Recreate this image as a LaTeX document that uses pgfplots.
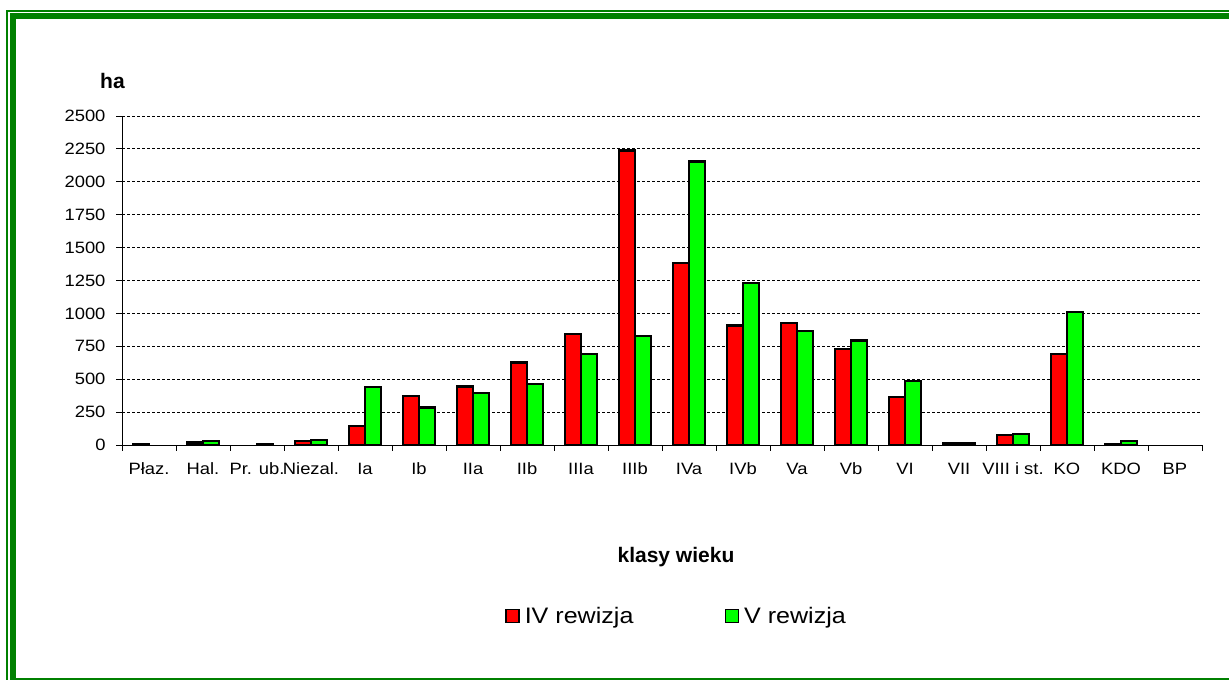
\documentclass[border=0pt]{standalone}
\usepackage{fontspec}
\setmainfont{Liberation Sans}[FakeStretch=1.12]
\newfontfamily\titlefont{Liberation Sans}
\usepackage{pgfplots}
\usepackage{pgfplotstable}
\pgfplotsset{compat=1.18}
\definecolor{frame}{RGB}{0,128,0}
\definecolor{barred}{RGB}{255,0,0}
\definecolor{bargreen}{RGB}{0,255,0}

\pgfplotstableread{
x IV V
0 5 nan
1 18 30
2 nan 5
3 30 38
4 144 441
5 372 284
6 444 393
7 626 461
8 841 692
9 2237 828
10 1383 2154
11 907 1231
12 929 866
13 732 795
14 367 484
15 15 15
16 78 82
17 692 1013
18 10 33
19 nan nan
}\datatable

\begin{document}
\begin{tikzpicture}[x=1pt,y=1pt]
\useasboundingbox (0,0) rectangle (1229,680);
\begin{scope}
\clip (0,0) rectangle (1229,680);
\draw[frame, line width=1.7] (6.9,-10) -- (6.9,668.7) -- (1240,668.7);
\draw[frame, line width=6] (12.9,-0.7) -- (12.9,663.8) -- (1240,663.8);
\draw[frame, line width=6] (9.9,-0.7) -- (1240,-0.7);
\end{scope}
\begin{axis}[
  at={(122pt,235pt)}, anchor=south west,
  scale only axis, width=1080pt, height=329pt,
  xmin=-0.5, xmax=19.5, ymin=0, ymax=2500,
  ybar=0pt, bar width=16pt,
  axis x line*=bottom, axis y line*=left,
  axis line style={black, line width=0.9pt},
  tick align=outside,
  major tick length=6pt,
  tick style={black, line width=0.9pt},
  xtick={-0.5,0.5,1.5,2.5,3.5,4.5,5.5,6.5,7.5,8.5,9.5,10.5,11.5,12.5,13.5,14.5,15.5,16.5,17.5,18.5,19.5},
  xticklabels={Płaz., Hal., Pr. ub., Niezal., Ia, Ib, IIa, IIb, IIIa, IIIb, IVa, IVb, Va, Vb, VI, VII, VIII i st., KO, KDO, BP, {}},
  xticklabel style={xshift=27pt, yshift=-8pt, text height=12pt, text depth=4pt, font=\fontsize{16.4}{19}\selectfont},
  ytick={0,250,...,2500},
  scaled y ticks=false,
  /pgf/number format/1000 sep={},
  /pgf/number format/assume math mode=true,
  yticklabel style={xshift=-7pt, font=\fontsize{16.4}{19}\selectfont},
  ymajorgrids,
  grid style={black, dash pattern=on 3pt off 2pt, line width=0.9pt},
  xlabel={klasy wieku},
  ylabel={ha},
  every axis x label/.style={at={(rel axis cs:0.51296,-0.35866)}, anchor=base, inner sep=0pt, font=\titlefont\bfseries\fontsize{21}{25}\selectfont},
  every axis y label/.style={at={(rel axis cs:-0.02037,1.0821)}, anchor=base west, inner sep=0pt, font=\titlefont\bfseries\fontsize{21}{25}\selectfont},
  legend columns=2,
  legend style={draw=none, fill=none, at={(0.3546,-0.5198)}, anchor=west,
    inner sep=0pt, column sep=5pt,
    /tikz/every even column/.append style={column sep=91pt},
    nodes={inner sep=0pt},
    font=\fontsize{22.4}{26}\selectfont},
  legend image code/.code={\draw[#1, draw=black, line width=1.6pt] (0pt,-6.5pt) rectangle (13pt,6.5pt);},
]
\addplot[fill=barred, draw=black, line width=2.3pt] table[x=x, y=IV] {\datatable};
\addplot[fill=bargreen, draw=black, line width=2.3pt] table[x=x, y=V] {\datatable};
\legend{IV rewizja, V rewizja}
\end{axis}
\end{tikzpicture}
\end{document}
